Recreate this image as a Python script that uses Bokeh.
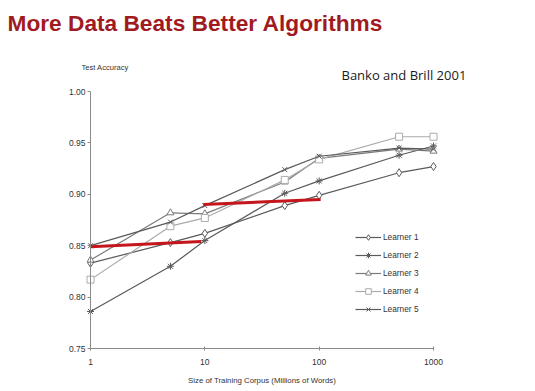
from bokeh.plotting import figure
from bokeh.models import Range1d, FixedTicker, NumeralTickFormatter, Label, Legend, LegendItem
from bokeh.embed import file_html
from bokeh.resources import INLINE
import math

# ---- data ----
corpus_size = [1, 5, 10, 50, 100, 500, 1000]          # millions of words
learner1 = [0.833, 0.853, 0.862, 0.889, 0.899, 0.921, 0.927]
learner2 = [0.786, 0.830, 0.855, 0.901, 0.913, 0.938, 0.947]
learner3 = [0.836, 0.882, 0.881, 0.912, 0.935, 0.944, 0.942]
learner4 = [0.817, 0.869, 0.877, 0.914, 0.934, 0.956, 0.956]
learner5 = [0.850, 0.873, 0.889, 0.924, 0.937, 0.945, 0.944]
learner_names = ["Learner 1", "Learner 2", "Learner 3", "Learner 4", "Learner 5"]

red1_x = [1, 9.3]
red1_y = [0.849, 0.854]
red2_x = [9.7, 103]
red2_y = [0.890, 0.895]

y_ticks = [0.75, 0.80, 0.85, 0.90, 0.95, 1.00]
x_ticks = [1, 10, 100, 1000]

TITLE = "More Data Beats Better Algorithms"
SUBTITLE = "Banko and Brill 2001"
Y_LABEL = "Test Accuracy"
X_LABEL = "Size of Training Corpus (Millions of Words)"

# ---- layout (pixels on the 535x391 canvas) ----
W, H = 535, 391
AX_LEFT, AX_RIGHT = 90, 433      # pixel x of 1 and 1000
AX_TOP, AX_BOTTOM = 91, 348      # pixel y of 1.00 and 0.75
X_MIN, X_MAX = 1, 1000
Y_MIN, Y_MAX = 0.75, 1.00

dec_px = (AX_RIGHT - AX_LEFT) / (math.log10(X_MAX) - math.log10(X_MIN))
x_start = 10 ** (math.log10(X_MIN) - AX_LEFT / dec_px)
x_end = 10 ** (math.log10(X_MAX) + (W - AX_RIGHT) / dec_px)
unit_px = (AX_BOTTOM - AX_TOP) / (Y_MAX - Y_MIN)
y_start = Y_MIN - (H - AX_BOTTOM) / unit_px
y_end = Y_MAX + AX_TOP / unit_px

SANS = "Liberation Sans, Arial, sans-serif"

p = figure(width=W, height=H, x_axis_type="log",
           x_range=Range1d(x_start, x_end), y_range=Range1d(y_start, y_end),
           output_backend="svg", toolbar_location=None, title_location=None,
           min_border=0)
p.outline_line_color = None
p.grid.visible = False
p.background_fill_color = "white"
p.border_fill_color = "white"

# axes (drawn inside the frame at fixed data positions)
p.yaxis.ticker = FixedTicker(ticks=y_ticks, minor_ticks=[])
p.yaxis.formatter = NumeralTickFormatter(format="0.00")
p.yaxis.fixed_location = X_MIN
p.yaxis.bounds = (Y_MIN, Y_MAX)
p.xaxis.ticker = FixedTicker(ticks=x_ticks, minor_ticks=[])
p.xaxis.formatter = NumeralTickFormatter(format="0")
p.xaxis.fixed_location = Y_MIN
p.xaxis.bounds = (X_MIN, X_MAX)
for ax in (p.xaxis, p.yaxis):
    ax.axis_line_color = "#8a8a8a"
    ax.major_tick_line_color = "#8a8a8a"
    ax.minor_tick_line_color = None
    ax.major_label_text_font = SANS
    ax.major_label_text_font_size = "8.5px"
    ax.major_label_text_color = "#333333"
p.yaxis.major_tick_in = 0
p.yaxis.major_tick_out = 3
p.yaxis.major_label_standoff = 2
p.xaxis.major_tick_in = 2
p.xaxis.major_tick_out = 2
p.xaxis.major_label_standoff = 8

series = [learner1, learner2, learner3, learner4, learner5]
markers = ["diamond", "asterisk", "triangle", "square", "x"]
colors = ["#5a5a5a", "#5a5a5a", "#7a7a7a", "#ababab", "#5a5a5a"]
sizes = [8, 7, 7, 7, 7]
items = []
for name, vals, mk, col, sz in zip(learner_names, series, markers, colors, sizes):
    lr = p.line(corpus_size, vals, line_color=col, line_width=1.2)
    sr = p.scatter(corpus_size, vals, marker=mk, size=sz, fill_color="white",
                   line_color=col, line_width=1)
    items.append(LegendItem(label=name, renderers=[lr, sr]))

p.line(red1_x, red1_y, line_color="#c3161d", line_width=3)
p.line(red2_x, red2_y, line_color="#c3161d", line_width=3)

legend = Legend(items=items, location=(355, 75), padding=0, margin=0,
                border_line_color=None, background_fill_alpha=0,
                glyph_width=26, glyph_height=14, label_height=14, spacing=4,
                label_standoff=2, label_text_font=SANS, label_text_font_size="8.3px",
                label_text_color="#333333")
p.add_layout(legend)

p.add_layout(Label(x=7, y=H - 22, x_units="screen", y_units="screen", text=TITLE,
                   text_font=SANS, text_font_style="bold",
                   text_font_size="22.7px", text_color="#a11a1f",
                   text_baseline="alphabetic"))
p.add_layout(Label(x=341, y=H - 74, x_units="screen", y_units="screen", text=SUBTITLE,
                   text_font="Open Sans", text_font_size="13px", text_color="#1a1a1a",
                   text_baseline="middle"))
p.add_layout(Label(x=81, y=H - 67, x_units="screen", y_units="screen", text=Y_LABEL,
                   text_font=SANS, text_font_size="7.6px", text_color="#333333",
                   text_baseline="middle"))
p.add_layout(Label(x=(AX_LEFT + AX_RIGHT) / 2, y=H - 380, x_units="screen", y_units="screen",
                   text=X_LABEL, text_font=SANS, text_font_size="7.8px",
                   text_color="#333333", text_align="center", text_baseline="middle"))

open("out.html", "w").write(file_html(p, INLINE))
